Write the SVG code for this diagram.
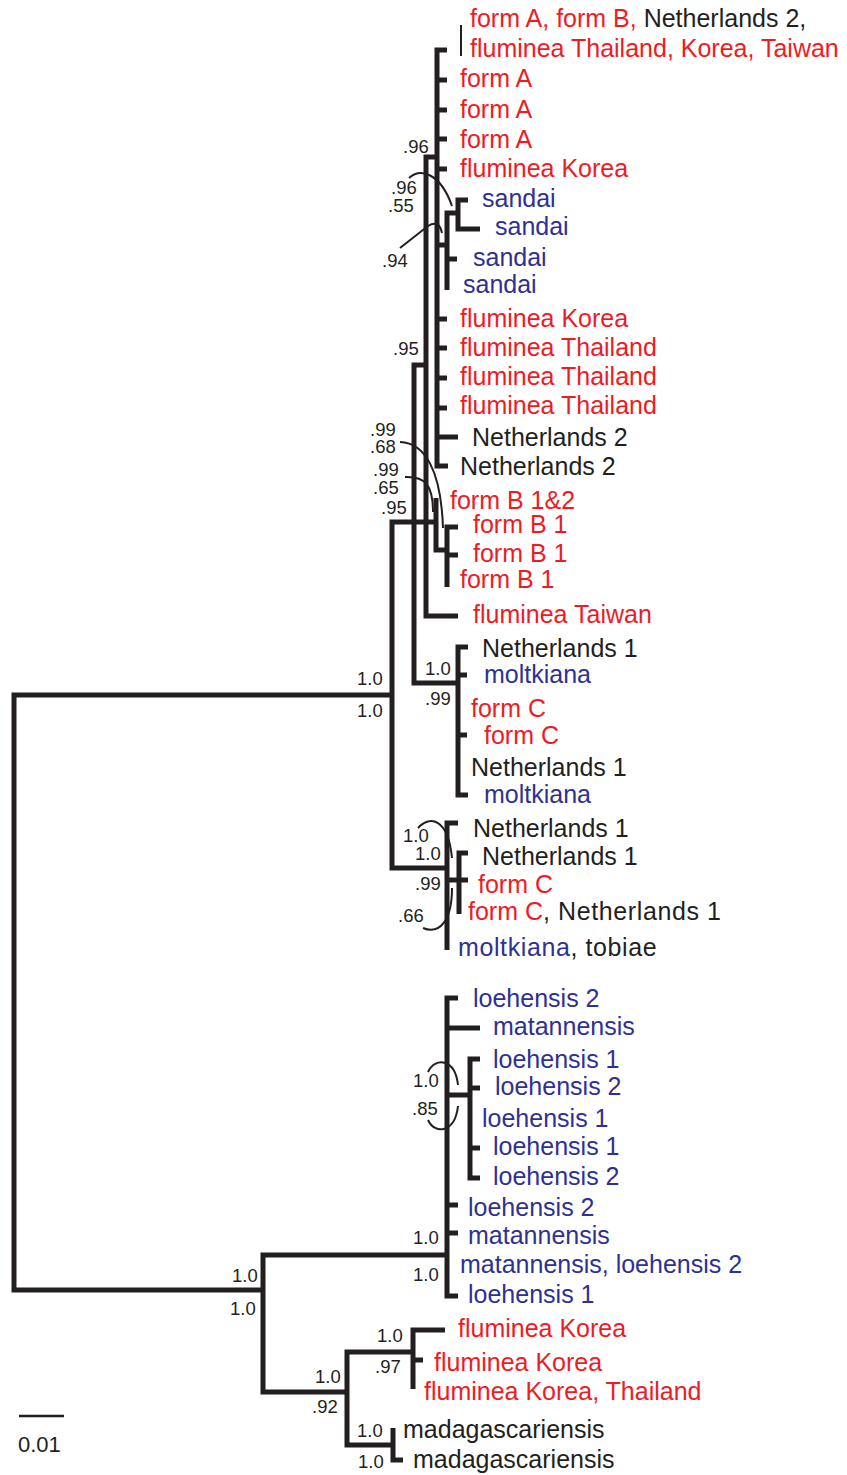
<svg xmlns="http://www.w3.org/2000/svg" width="847" height="1475" viewBox="0 0 847 1475">
  <style>
    .br { fill: none; stroke: #231F20; stroke-width: 5; stroke-linejoin: miter; stroke-linecap: butt; }
    .arc { fill: none; stroke: #231F20; stroke-width: 2; }
    .thin { fill: none; stroke: #231F20; stroke-width: 2; }
    text { font-family: "Liberation Sans", Arial, sans-serif; }
    .lb { font-size: 25px; }
    .r { fill: #ED1C24; }
    .b { fill: #2E3192; }
    .k { fill: #231F20; }
    .sp { font-size: 18.5px; fill: #231F20; }
    .wide { letter-spacing: 0.6px; }
  </style>
  <rect width="847" height="1475" fill="#FFFFFF"/>

  <!-- tree branches -->
  <g id="connectors">
    <!-- root -->
    <path class="br" d="M392,695 H14 V1290 H265"/>
    <!-- upper lineage -->
    <path class="br" d="M436,522 H392 V868 H447"/>
    <path class="br" d="M426,365 H414 V683 H458"/>
    <path class="br" d="M437,157 H426 V616 H458"/>
    <path class="br" d="M447,50 H437 V466 H448"/>
    <path class="br" d="M437,80 H447 M437,110 H447 M437,139 H447 M437,169 H447 M437,245 H447 M437,319 H447 M437,348 H447 M437,378 H447 M437,408 H447 M437,437 H458"/>
    <!-- sandai -->
    <path class="br" d="M458,213 H447 V290"/>
    <path class="br" d="M447,259 H457"/>
    <path class="br" d="M468,200 H458 V229 H480"/>
    <!-- form B -->
    <path class="br" d="M436,498 V550 H447"/>
    <path class="br" d="M458,527 H447 V587"/>
    <path class="br" d="M447,555 H458"/>
    <!-- Netherlands 1 / moltkiana / form C -->
    <path class="br" d="M468,647 H458 V795 H468"/>
    <path class="br" d="M458,675 H467 M458,735 H467"/>
    <path class="br" d="M458,823 H447 V950"/>
    <path class="br" d="M447,880 H468"/>
    <path class="br" d="M468,853 H459 V914"/>
    <!-- lower lineage -->
    <path class="br" d="M447,1255 H263 V1392 H347"/>
    <path class="br" d="M458,998 H447 V1296 H458"/>
    <path class="br" d="M447,1028 H480 M447,1095 H470 M447,1205 H458 M447,1233 H458"/>
    <path class="br" d="M480,1059 H470 V1178 H480"/>
    <path class="br" d="M470,1088 H480 M470,1148 H480"/>
    <path class="br" d="M413,1352 H347 V1445 H393"/>
    <path class="br" d="M445,1330 H413 V1389"/>
    <path class="br" d="M413,1360 H423"/>
    <path class="br" d="M393,1428 V1460 H403"/>
    <!-- bracket at the top tip -->
    <path class="thin" d="M461,25 V56"/>
    <!-- support arcs -->
    <path class="arc" d="M409,178 C420,168 440,172 452,206"/>
    <path class="arc" d="M400,248 L428,226 Q439,219 442,233"/>
    <path class="arc" d="M400,442 C425,443 441,470 443,528"/>
    <path class="arc" d="M405,477 C425,476 433,485 433,512"/>
    <path class="arc" d="M418,828 C430,815 448,818 452,858"/>
    <path class="arc" d="M423,928 C440,935 452,920 452,888"/>
    <path class="arc" d="M428,1072 C435,1057 455,1058 458,1085"/>
    <path class="arc" d="M428,1120 C435,1135 455,1133 458,1106"/>
    <!-- scale bar -->
    <path d="M19,1416 H64" stroke="#231F20" stroke-width="2.5"/>
  </g>

  <!-- support values -->
  <g id="support">
    <text class="sp" x="403" y="153">.96</text>
    <text class="sp" x="391" y="194">.96</text>
    <text class="sp" x="388" y="212">.55</text>
    <text class="sp" x="382" y="267">.94</text>
    <text class="sp" x="393" y="355">.95</text>
    <text class="sp" x="370" y="436">.99</text>
    <text class="sp" x="370" y="453">.68</text>
    <text class="sp" x="373" y="476">.99</text>
    <text class="sp" x="373" y="494">.65</text>
    <text class="sp" x="381" y="514">.95</text>
    <text class="sp" x="357" y="685">1.0</text>
    <text class="sp" x="357" y="717">1.0</text>
    <text class="sp" x="425" y="675">1.0</text>
    <text class="sp" x="425" y="705">.99</text>
    <text class="sp" x="403" y="842">1.0</text>
    <text class="sp" x="415" y="860">1.0</text>
    <text class="sp" x="415" y="890">.99</text>
    <text class="sp" x="398" y="922">.66</text>
    <text class="sp" x="413" y="1087">1.0</text>
    <text class="sp" x="412" y="1115">.85</text>
    <text class="sp" x="413" y="1244">1.0</text>
    <text class="sp" x="413" y="1281">1.0</text>
    <text class="sp" x="232" y="1282">1.0</text>
    <text class="sp" x="230" y="1315">1.0</text>
    <text class="sp" x="377" y="1342">1.0</text>
    <text class="sp" x="375" y="1373">.97</text>
    <text class="sp" x="315" y="1383">1.0</text>
    <text class="sp" x="312" y="1413">.92</text>
    <text class="sp" x="357" y="1437">1.0</text>
    <text class="sp" x="358" y="1468">1.0</text>
    <text x="18" y="1452" font-size="22" fill="#231F20">0.01</text>
  </g>

  <!-- terminal taxa -->
  <g id="leaf-top" class="lb">
    <text x="470" y="27"><tspan class="r">form A, form B, </tspan><tspan class="k">Netherlands 2,</tspan></text>
    <text x="470" y="57" class="r">fluminea Thailand, Korea, Taiwan</text>
  </g>
  <g id="leaf-formA-1" class="lb"><text x="460" y="87" class="r">form A</text></g>
  <g id="leaf-formA-2" class="lb"><text x="460" y="118" class="r">form A</text></g>
  <g id="leaf-formA-3" class="lb"><text x="460" y="148" class="r">form A</text></g>
  <g id="leaf-flKorea-1" class="lb"><text x="460" y="177" class="r">fluminea Korea</text></g>
  <g id="leaf-sandai-1" class="lb"><text x="482" y="207" class="b">sandai</text></g>
  <g id="leaf-sandai-2" class="lb"><text x="495" y="235" class="b">sandai</text></g>
  <g id="leaf-sandai-3" class="lb"><text x="473" y="266" class="b">sandai</text></g>
  <g id="leaf-sandai-4" class="lb"><text x="463" y="293" class="b">sandai</text></g>
  <g id="leaf-flKorea-2" class="lb"><text x="460" y="327" class="r">fluminea Korea</text></g>
  <g id="leaf-flThai-1" class="lb"><text x="460" y="356" class="r">fluminea Thailand</text></g>
  <g id="leaf-flThai-2" class="lb"><text x="460" y="385" class="r">fluminea Thailand</text></g>
  <g id="leaf-flThai-3" class="lb"><text x="460" y="414" class="r">fluminea Thailand</text></g>
  <g id="leaf-neth2-1" class="lb"><text x="472" y="446" class="k">Netherlands 2</text></g>
  <g id="leaf-neth2-2" class="lb"><text x="460" y="475" class="k">Netherlands 2</text></g>
  <g id="leaf-formB12" class="lb"><text x="450" y="509" class="r">form B 1&amp;2</text></g>
  <g id="leaf-formB1-1" class="lb"><text x="473" y="533" class="r">form B 1</text></g>
  <g id="leaf-formB1-2" class="lb"><text x="473" y="562" class="r">form B 1</text></g>
  <g id="leaf-formB1-3" class="lb"><text x="460" y="588" class="r">form B 1</text></g>
  <g id="leaf-flTaiwan" class="lb"><text x="473" y="623" class="r">fluminea Taiwan</text></g>
  <g id="leaf-neth1-1" class="lb"><text x="482" y="657" class="k">Netherlands 1</text></g>
  <g id="leaf-molt-1" class="lb"><text x="484" y="683" class="b">moltkiana</text></g>
  <g id="leaf-formC-1" class="lb"><text x="471" y="717" class="r">form C</text></g>
  <g id="leaf-formC-2" class="lb"><text x="484" y="744" class="r">form C</text></g>
  <g id="leaf-neth1-2" class="lb"><text x="471" y="776" class="k">Netherlands 1</text></g>
  <g id="leaf-molt-2" class="lb"><text x="484" y="803" class="b">moltkiana</text></g>
  <g id="leaf-neth1-3" class="lb"><text x="473" y="837" class="k">Netherlands 1</text></g>
  <g id="leaf-neth1-4" class="lb"><text x="482" y="865" class="k">Netherlands 1</text></g>
  <g id="leaf-formC-3" class="lb"><text x="478" y="893" class="r">form C</text></g>
  <g id="leaf-formC-neth1" class="lb"><text x="468" y="920"><tspan class="r">form C</tspan><tspan class="k wide">, Netherlands 1</tspan></text></g>
  <g id="leaf-molt-tobiae" class="lb"><text x="458" y="956" class="wide"><tspan class="b">moltkiana</tspan><tspan class="k">, tobiae</tspan></text></g>
  <g id="leaf-loeh2-1" class="lb"><text x="473" y="1007" class="b">loehensis 2</text></g>
  <g id="leaf-matan-1" class="lb"><text x="493" y="1035" class="b">matannensis</text></g>
  <g id="leaf-loeh1-1" class="lb"><text x="493" y="1068" class="b">loehensis 1</text></g>
  <g id="leaf-loeh2-2" class="lb"><text x="495" y="1095" class="b">loehensis 2</text></g>
  <g id="leaf-loeh1-2" class="lb"><text x="482" y="1127" class="b">loehensis 1</text></g>
  <g id="leaf-loeh1-3" class="lb"><text x="493" y="1155" class="b">loehensis 1</text></g>
  <g id="leaf-loeh2-3" class="lb"><text x="493" y="1185" class="b">loehensis 2</text></g>
  <g id="leaf-loeh2-4" class="lb"><text x="468" y="1216" class="b">loehensis 2</text></g>
  <g id="leaf-matan-2" class="lb"><text x="468" y="1244" class="b">matannensis</text></g>
  <g id="leaf-matan-loeh2" class="lb"><text x="460" y="1273" class="b">matannensis, loehensis 2</text></g>
  <g id="leaf-loeh1-4" class="lb"><text x="468" y="1303" class="b">loehensis 1</text></g>
  <g id="leaf-flKorea-3" class="lb"><text x="458" y="1337" class="r">fluminea Korea</text></g>
  <g id="leaf-flKorea-4" class="lb"><text x="434" y="1371" class="r">fluminea Korea</text></g>
  <g id="leaf-flKorea-Thai" class="lb"><text x="424" y="1400" class="r">fluminea Korea, Thailand</text></g>
  <g id="leaf-madag-1" class="lb"><text x="403" y="1438" class="k">madagascariensis</text></g>
  <g id="leaf-madag-2" class="lb"><text x="413" y="1468" class="k">madagascariensis</text></g>
</svg>
